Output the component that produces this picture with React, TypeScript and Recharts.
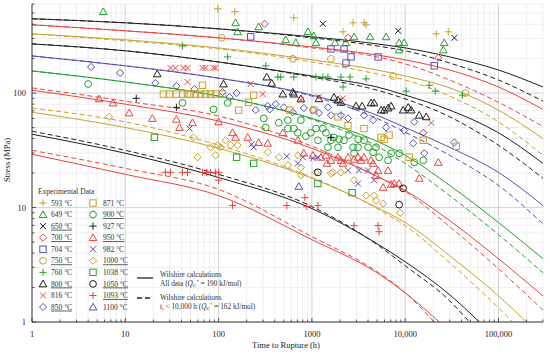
import React from 'react';
import { ComposedChart, Line, Scatter, XAxis, YAxis, CartesianGrid, ReferenceLine } from 'recharts';

type P = [number, number];

const GOLD = '#c9a12c';
const GREEN = '#23a12b';
const BLACK = '#1e1e1e';
const RED = '#e8443f';
const PURPLE = '#5a4db3';
const FONT = '"Liberation Serif", "DejaVu Serif", serif';

// tick values
const xTicks = [1, 2, 3, 4, 5, 6, 7, 8, 9, 10, 20, 30, 40, 50, 60, 70, 80, 90, 100, 200, 300, 400, 500, 600, 700, 800, 900, 1000, 2000, 3000, 4000, 5000, 6000, 7000, 8000, 9000, 10000, 20000, 30000, 40000, 50000, 60000, 70000, 80000, 90000, 100000, 200000, 300000];
const yTicks = [1, 2, 3, 4, 5, 6, 7, 8, 9, 10, 20, 30, 40, 50, 60, 70, 80, 90, 100, 200, 300, 400, 500, 600];
const xMajor = [10, 100, 1000, 10000, 100000];
const yMajor = [10, 100];
const xLabels: Record<number, string> = { 1: '1', 10: '10', 100: '100', 1000: '1000', 10000: '10,000', 100000: '100,000' };
const yLabels: Record<number, string> = { 1: '1', 10: '10', 100: '100' };

// Wilshire curves (time h, stress MPa)
const c650s: P[] = [[1, 446], [10, 411], [100, 364], [1000, 310], [5000, 269], [10000, 248], [30000, 207], [100000, 159], [300000, 113]];
const c650d: P[] = [[1, 446], [10, 411], [100, 364], [1000, 304], [5000, 258], [10000, 234], [30000, 183], [100000, 130], [300000, 85]];
const c700s: P[] = [[1, 395], [10, 350], [100, 304], [1000, 253], [5000, 215], [10000, 195], [30000, 159], [100000, 113], [300000, 72]];
const c700d: P[] = [[1, 395], [10, 350], [100, 304], [1000, 248], [5000, 207], [10000, 180], [30000, 130], [100000, 83], [300000, 51]];
const c750s: P[] = [[1, 329], [10, 292], [100, 248], [1000, 195], [5000, 159], [10000, 141], [30000, 111], [100000, 71], [300000, 40]];
const c750d: P[] = [[1, 329], [10, 286], [100, 243], [1000, 187], [5000, 147], [10000, 130], [30000, 94], [100000, 56], [300000, 28.6]];
const c800s: P[] = [[1, 269], [10, 234], [100, 187], [1000, 141], [5000, 113], [10000, 96], [30000, 71], [100000, 45], [300000, 24.3]];
const c800d: P[] = [[1, 269], [10, 234], [100, 187], [1000, 138], [5000, 106], [10000, 89], [30000, 62], [100000, 35], [300000, 18]];
const c850s: P[] = [[1, 211], [10, 173], [100, 135], [1000, 96], [5000, 64], [10000, 50], [30000, 33.6], [100000, 20.3], [300000, 10.4]];
const c850d: P[] = [[1, 211], [10, 173], [100, 135], [1000, 94], [5000, 60], [10000, 45.5], [30000, 28.6], [100000, 15.6], [300000, 7.2]];
const c900s: P[] = [[1, 156], [10, 125], [100, 94], [1000, 60], [5000, 37.9], [10000, 28.6], [30000, 15.6], [100000, 7.4], [300000, 3.57]];
const c900d: P[] = [[1, 156], [10, 125], [100, 94], [1000, 59], [5000, 34.3], [10000, 24.3], [30000, 12.7], [100000, 5.8], [300000, 2.69]];
const c950s: P[] = [[1, 106], [10, 80], [100, 57], [1000, 32.9], [5000, 18.7], [10000, 14.1], [30000, 7.69], [100000, 3.57], [300000, 1.69]];
const c950d: P[] = [[1, 111], [10, 85], [100, 63], [1000, 34.3], [5000, 18.7], [10000, 13.8], [30000, 6.8], [100000, 2.92], [300000, 1.27]];
const c1000s: P[] = [[1, 68], [10, 50], [100, 32.9], [1000, 18], [5000, 10], [10000, 7.4], [30000, 3.79], [100000, 1.69], [200000, 1]];
const c1000d: P[] = [[1, 74], [10, 56], [100, 35], [1000, 18.3], [5000, 9.8], [10000, 6.95], [30000, 3.29], [100000, 1.33], [141500, 1]];
const c1050s: P[] = [[1, 43.7], [10, 29.8], [100, 18.3], [1000, 9.8], [5000, 4.83], [10000, 3.36], [30000, 1.73], [62500, 1]];
const c1050d: P[] = [[1, 46.4], [10, 31.6], [100, 19.5], [1000, 10.2], [5000, 4.74], [10000, 3.1], [30000, 1.53], [48750, 1]];
const c1093s: P[] = [[1, 29.2], [10, 19.5], [100, 12.7], [1000, 5.24], [5000, 2.69], [10000, 1.8], [23200, 1]];
const c1093d: P[] = [[1, 31.6], [10, 22], [100, 14.4], [1000, 5.57], [5000, 2.75], [10000, 1.8], [20500, 1]];

// Experimental data (time h, stress MPa)
const d593: P[] = [[98, 545], [149, 514], [640, 455], [2760, 411], [3625, 411], [3810, 395], [2155, 343], [21550, 329], [28970, 343]];
const d649: P[] = [[5.8, 514], [152, 411], [160, 343], [269, 379], [525, 292], [673, 275], [906, 343], [1050, 316], [1105, 275], [1765, 275], [2320, 275], [2830, 310], [4205, 310], [6250, 310], [8615, 275], [9750, 275], [8615, 238], [26240, 275], [25630, 238]];
const d650: P[] = [[1310, 403], [8410, 350], [33650, 304]];
const d700: P[] = [[312, 403], [2440, 304], [22630, 203]];
const d704: P[] = [[221, 310], [1600, 243], [2210, 243], [2320, 183], [2625, 207], [5125, 207], [20500, 173]];
const d750: P[] = [[108, 304], [625, 199], [1600, 199], [7425, 141], [44200, 100]];
const d760: P[] = [[41, 258], [125, 207], [320, 173], [431, 138], [464, 138], [640, 138], [1105, 138], [1310, 138], [1485, 138], [2050, 138], [2565, 138], [3810, 133], [2155, 113], [10250, 104], [18100, 117], [21000, 104], [41020, 96]];
const d800: P[] = [[22, 147], [113, 120], [328, 138], [371, 122], [488, 98], [625, 102], [640, 98], [762, 89], [1190, 89], [1725, 92], [1905, 87], [2050, 83], [2970, 77], [3450, 77], [4310, 82], [4645, 82], [5520, 71], [5945, 71], [6560, 74], [7065, 77], [9510, 71], [10770, 75], [11600, 71], [14150, 64], [16800, 62]];
const d816: P[] = [[30.5, 166], [34.5, 166], [42, 166], [46.4, 166], [67.3, 166], [72.5, 166], [88.3, 166], [93, 166], [46.4, 125], [221, 120], [297, 98], [762, 87], [1190, 92], [2155, 90], [19050, 55]];
const d850: P[] = [[4.3, 169], [8.8, 150], [21, 122], [35.3, 115], [55.2, 108], [110, 102], [131, 92], [156, 100], [250, 71], [336, 77], [353, 72], [410, 80], [500, 75], [625, 68], [820, 74], [1025, 71], [1190, 67], [1485, 75], [1600, 64], [2050, 64], [2440, 60], [3625, 64], [4530, 58], [6250, 50], [9750, 47], [12200, 36.4], [12500, 56], [15620, 45], [16000, 29.8], [33650, 37]];
const d871: P[] = [[25.6, 98], [29.7, 98], [35.3, 98], [41, 98], [46.4, 98], [50, 98], [56.6, 98], [64, 98], [72.5, 98], [82, 98], [93, 98], [110, 98], [67.3, 117], [164, 71], [210, 83], [238, 96], [580, 71], [1050, 71], [1905, 62], [2440, 52], [3625, 49], [5520, 41], [5945, 39.5], [6725, 43], [11050, 27.5], [15620, 38.7], [35320, 34.3]];
const d900: P[] = [[4, 120], [41, 82], [88.3, 72], [125, 82], [305, 60], [320, 50], [442, 55], [552, 58], [552, 49], [640, 49], [707, 45], [762, 58], [861, 42], [975, 45], [1105, 49], [1160, 38.7], [1310, 49], [1415, 45], [1485, 33.6], [1600, 38.7], [1725, 41], [1905, 33.6], [2210, 38.7], [2500, 43], [2760, 33.6], [3125, 33.6], [2830, 29.8], [3625, 38.7], [4000, 33.6], [4530, 30.4], [1950, 39.5], [3125, 39.5], [4875, 33.6], [5250, 27.5], [7065, 29.8], [8615, 29.8], [12500, 24.8], [15620, 25.8], [6560, 25.8]];
const d927: P[] = [[13.1, 90], [35.3, 75], [1600, 41]];
const d950: P[] = [[5.25, 89], [7.4, 82], [11, 67], [19.5, 60], [35.3, 59], [38.1, 50], [52.5, 55], [100, 56], [141, 45], [152, 41], [205, 41], [269, 37], [336, 36.4], [488, 45], [707, 38.7], [820, 29.8], [1025, 28.6], [1250, 27.5], [1415, 28.6], [1600, 25.8], [1905, 27.5], [2050, 25.8], [2440, 27.5], [2830, 26.4], [3125, 27.5], [3365, 25.8], [3625, 27.5], [4310, 25.8], [1450, 24.3], [2155, 24.3], [4530, 24.3], [5125, 21.1], [4875, 19.1], [6560, 21.1], [5800, 15], [7065, 15.9], [7615, 16.2], [8615, 16.2], [14150, 18], [22630, 24.8]];
const d982: P[] = [[48.8, 49], [226, 35.7], [238, 33.6], [538, 28], [800, 27.5], [1025, 26.9], [1160, 27.5], [707, 24.3], [2440, 21.1], [3200, 21.1], [4000, 21.1], [3125, 16.2], [4645, 17.3]];
const d1000: P[] = [[6.7, 62], [53.8, 41], [59.4, 27.5], [82, 33.6], [97.6, 35], [105, 33.6], [119, 38.7], [135, 35], [160, 35], [93, 28.6], [336, 30.4], [442, 27.5], [707, 28.6], [762, 22.4], [552, 23.4], [762, 19.1], [1105, 20.3], [1680, 20.3], [2050, 20.3], [2830, 17.3], [3810, 12.7], [4645, 12.7], [4875, 11.5], [5800, 10.8], [8835, 9], [1600, 19.9]];
const d1038: P[] = [[20.5, 41], [156, 27.5], [238, 24.3], [1160, 16.2], [2700, 13.5]];
const d1050: P[] = [[1160, 20.3], [9510, 14.7], [8615, 10.6]];
const d1093: P[] = [[26.9, 20.3], [30.5, 20.3], [41, 20.3], [46.4, 20.3], [67.3, 20.3], [74.3, 20.3], [82, 20.3], [93, 20.3], [100, 20.3], [100, 17.3], [141, 10.4], [538, 10.4], [841, 12.2], [883, 10.2], [1160, 10.4], [2830, 6.95], [5125, 6.95], [5250, 6.15]];
const d1100: P[] = [[725, 15.3]];

type Kind = 'plus' | 'tri' | 'cross' | 'diamond' | 'square' | 'circle';

const series: { label: string; kind: Kind; color: string; u: boolean; data: P[] }[] = [
  { label: '593 °C', kind: 'plus', color: GOLD, u: false, data: d593 },
  { label: '649 °C', kind: 'tri', color: GREEN, u: false, data: d649 },
  { label: '650 °C', kind: 'cross', color: BLACK, u: true, data: d650 },
  { label: '700 °C', kind: 'diamond', color: RED, u: true, data: d700 },
  { label: '704 °C', kind: 'square', color: PURPLE, u: false, data: d704 },
  { label: '750 °C', kind: 'circle', color: GOLD, u: true, data: d750 },
  { label: '760 °C', kind: 'plus', color: GREEN, u: false, data: d760 },
  { label: '800 °C', kind: 'tri', color: BLACK, u: true, data: d800 },
  { label: '816 °C', kind: 'cross', color: RED, u: false, data: d816 },
  { label: '850 °C', kind: 'diamond', color: PURPLE, u: true, data: d850 },
  { label: '871 °C', kind: 'square', color: GOLD, u: false, data: d871 },
  { label: '900 °C', kind: 'circle', color: GREEN, u: true, data: d900 },
  { label: '927 °C', kind: 'plus', color: BLACK, u: false, data: d927 },
  { label: '950 °C', kind: 'tri', color: RED, u: true, data: d950 },
  { label: '982 °C', kind: 'cross', color: PURPLE, u: false, data: d982 },
  { label: '1000 °C', kind: 'diamond', color: GOLD, u: true, data: d1000 },
  { label: '1038 °C', kind: 'square', color: GREEN, u: false, data: d1038 },
  { label: '1050 °C', kind: 'circle', color: BLACK, u: true, data: d1050 },
  { label: '1093 °C', kind: 'plus', color: RED, u: true, data: d1093 },
  { label: '1100 °C', kind: 'tri', color: PURPLE, u: false, data: d1100 },
];

const curves: { data: P[]; color: string; dashed: boolean }[] = [
  { data: c650s, color: BLACK, dashed: false }, { data: c650d, color: BLACK, dashed: true },
  { data: c700s, color: RED, dashed: false }, { data: c700d, color: RED, dashed: true },
  { data: c750s, color: GOLD, dashed: false }, { data: c750d, color: GOLD, dashed: true },
  { data: c800s, color: BLACK, dashed: false }, { data: c800d, color: BLACK, dashed: true },
  { data: c850s, color: PURPLE, dashed: false }, { data: c850d, color: PURPLE, dashed: true },
  { data: c900s, color: GREEN, dashed: false }, { data: c900d, color: GREEN, dashed: true },
  { data: c950s, color: RED, dashed: false }, { data: c950d, color: RED, dashed: true },
  { data: c1000s, color: GOLD, dashed: false }, { data: c1000d, color: GOLD, dashed: true },
  { data: c1050s, color: BLACK, dashed: false }, { data: c1050d, color: BLACK, dashed: true },
  { data: c1093s, color: RED, dashed: false }, { data: c1093d, color: RED, dashed: true },
];

const toObj = (arr: P[]) => arr.map(([t, s]) => ({ t, s }));

function Marker({ kind, color, cx, cy }: { kind: Kind; color: string; cx: number; cy: number }) {
  const common = { stroke: color, strokeWidth: 1, fill: 'none' };
  switch (kind) {
    case 'plus':
      return <path d={`M${cx - 3.6},${cy}H${cx + 3.6}M${cx},${cy - 3.6}V${cy + 3.6}`} {...common} />;
    case 'cross':
      return <path d={`M${cx - 3},${cy - 3}L${cx + 3},${cy + 3}M${cx - 3},${cy + 3}L${cx + 3},${cy - 3}`} {...common} />;
    case 'tri':
      return <path d={`M${cx},${cy - 3.8}L${cx + 3.8},${cy + 2.9}L${cx - 3.8},${cy + 2.9}Z`} {...common} />;
    case 'diamond':
      return <path d={`M${cx},${cy - 3.6}L${cx + 3.6},${cy}L${cx},${cy + 3.6}L${cx - 3.6},${cy}Z`} {...common} />;
    case 'square':
      return <rect x={cx - 3.2} y={cy - 3.2} width={6.4} height={6.4} {...common} />;
    default:
      return <circle cx={cx} cy={cy} r={3.4} {...common} />;
  }
}

const XTick = (props: any) => {
  const { x, y, payload } = props;
  const v = payload.value;
  const lab = xLabels[v];
  return (
    <g>
      <line x1={x} x2={x} y1={y} y2={y - (lab ? 4 : 2.5)} stroke="#333" strokeWidth={0.8} />
      {lab && (
        <text x={x} y={y + 14.5} textAnchor="middle" fontSize={8.5} fontFamily={FONT} fill="#222">{lab}</text>
      )}
    </g>
  );
};

const YTick = (props: any) => {
  const { x, y, payload } = props;
  const v = payload.value;
  const lab = yLabels[v];
  return (
    <g>
      <line x1={x} x2={x + (lab ? 4 : 2.5)} y1={y} y2={y} stroke="#333" strokeWidth={0.8} />
      {lab && (
        <text x={x - 6} y={y + 3} textAnchor="end" fontSize={8.5} fontFamily={FONT} fill="#222">{lab}</text>
      )}
    </g>
  );
};

export default function App() {
  const rowY = (i: number) => 203 + i * 11.56;
  return (
    <div style={{ position: 'absolute', left: 0, top: 0, width: 550, height: 354, background: '#fff' }}>
      <ComposedChart width={550} height={354} margin={{ top: 4, right: 7, bottom: 0, left: 0 }}>
        <CartesianGrid stroke="#ebebeb" strokeWidth={0.8} />
        <XAxis dataKey="t" type="number" scale="log" domain={[1, 300000]} ticks={xTicks} allowDataOverflow
          interval={0} tick={XTick} tickLine={false} tickSize={0} tickMargin={0} height={32}
          axisLine={{ stroke: '#333', strokeWidth: 1 }} />
        <YAxis dataKey="s" type="number" scale="log" domain={[1, 600]} ticks={yTicks} allowDataOverflow
          interval={0} tick={YTick} tickLine={false} tickSize={0} tickMargin={0} width={32}
          axisLine={{ stroke: '#333', strokeWidth: 1 }} />
        {xMajor.map((v) => <ReferenceLine key={'x' + v} x={v} stroke="#d2d2d2" strokeWidth={0.9} />)}
        {yMajor.map((v) => <ReferenceLine key={'y' + v} y={v} stroke="#d2d2d2" strokeWidth={0.9} />)}
        {curves.map((c, i) => (
          <Line key={'c' + i} data={toObj(c.data)} dataKey="s" type="monotone" stroke={c.color}
            strokeWidth={1} strokeDasharray={c.dashed ? '5 3' : undefined} dot={false}
            activeDot={false} isAnimationActive={false} />
        ))}
        {series.map((s, i) => (
          <Scatter key={'s' + i} data={toObj(s.data)} dataKey="s" isAnimationActive={false}
            shape={(p: any) => <Marker kind={s.kind} color={s.color} cx={p.cx} cy={p.cy} />} />
        ))}
      </ComposedChart>
      <svg width={550} height={354} style={{ position: 'absolute', left: 0, top: 0, pointerEvents: 'none' }}
        fontFamily={FONT}>
        <text x={286} y={347.5} textAnchor="middle" fontSize={8.5} fill="#222">Time to Rupture (h)</text>
        <text transform="translate(10,160) rotate(-90)" textAnchor="middle" fontSize={8.5} fill="#222">Stress (MPa)</text>
        <text x={38} y={193.5} fontSize={7.5} fill="#333">Experimental Data</text>
        {series.map((s, i) => {
          const col = i < 10 ? 0 : 1;
          const r = i % 10;
          const sx = col === 0 ? 43 : 93;
          const tx = col === 0 ? 51 : 103;
          const y = rowY(r);
          return (
            <g key={'lg' + i}>
              <Marker kind={s.kind} color={s.color} cx={sx} cy={y} />
              <text x={tx} y={y + 2.6} fontSize={7.5} fill="#333" textDecoration={s.u ? 'underline' : undefined}
                style={s.u ? { textDecoration: 'underline' } : undefined}>{s.label}</text>
            </g>
          );
        })}
        <line x1={137} x2={153} y1={278} y2={278} stroke="#222" strokeWidth={1.3} />
        <text x={160} y={276.5} fontSize={7.3} fill="#333">Wilshire calculations</text>
        <text x={160} y={285.5} fontSize={7.3} fill="#333">
          All data (<tspan fontStyle="italic">Q</tspan><tspan fontSize={5} dy={1.5}>C</tspan><tspan fontSize={5} dy={-4}>*</tspan><tspan dy={2.5}> = 190 kJ/mol)</tspan>
        </text>
        <line x1={137} x2={153} y1={298} y2={298} stroke="#222" strokeWidth={1.3} strokeDasharray="5 3" />
        <text x={160} y={299.5} fontSize={7.3} fill="#333">Wilshire calculations</text>
        <text x={160} y={308.5} fontSize={7.3} fill="#333">
          <tspan fontStyle="italic">t</tspan><tspan fontSize={5} dy={1.5}>r</tspan><tspan dy={-1.5}> &lt; 10,000 h (</tspan><tspan fontStyle="italic">Q</tspan><tspan fontSize={5} dy={1.5}>C</tspan><tspan fontSize={5} dy={-4}>*</tspan><tspan dy={2.5}> = 162 kJ/mol)</tspan>
        </text>
      </svg>
    </div>
  );
}
